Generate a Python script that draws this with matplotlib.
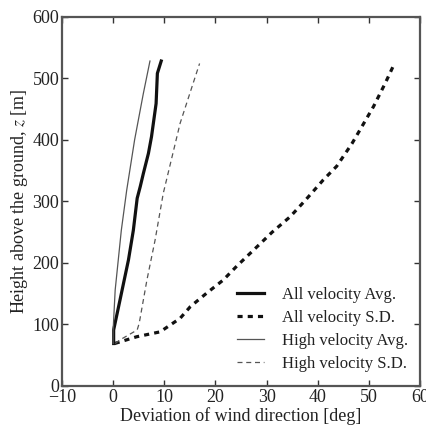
import matplotlib
matplotlib.use("Agg")
import matplotlib.pyplot as plt

plt.rcParams["font.family"] = ["Liberation Serif", "DejaVu Serif"]
plt.rcParams["mathtext.fontset"] = "stix"

# Wind direction deviation profiles (deg) against height above ground (m)
all_avg_z = [69, 91, 140, 205, 253, 305, 324, 345, 378, 405, 459, 508, 528]
all_avg_x = [0.1, 0.1, 1.35, 3.0, 3.95, 4.7, 5.3, 5.9, 6.9, 7.5, 8.4, 8.65, 9.4]

all_sd_z = [69, 80, 88, 110, 129, 151, 172, 195, 226, 250, 275, 302, 335,
            357, 394, 421, 454, 492, 524]
all_sd_x = [0.3, 4.6, 9.2, 13.1, 15.1, 18.3, 21.5, 24.2, 28.1, 31.1, 34.6,
            37.6, 41.1, 43.7, 46.7, 48.6, 50.9, 53.2, 55.0]

high_avg_z = [69, 91, 156, 253, 318, 400, 475, 528]
high_avg_x = [0.0, 0.0, 0.4, 1.6, 2.65, 4.2, 5.9, 7.2]

high_sd_z = [69, 75, 91, 102, 172, 237, 313, 427, 524]
high_sd_x = [0.4, 1.35, 4.7, 5.1, 6.6, 8.2, 9.8, 13.1, 16.9]

x_ticks = [-10, 0, 10, 20, 30, 40, 50, 60]
y_ticks = [0, 100, 200, 300, 400, 500, 600]

fig = plt.figure(figsize=(4.26, 4.32), dpi=100)
ax = fig.add_axes([0.1455, 0.1065, 0.8405, 0.8548])

ax.plot(all_avg_x, all_avg_z, color="#111111", lw=2.3, ls="-",
        label="All velocity Avg.")
ax.plot(all_sd_x, all_sd_z, color="#111111", lw=2.3, ls=(0, (1.6, 1.6)),
        label="All velocity S.D.")
ax.plot(high_avg_x, high_avg_z, color="#555555", lw=0.9, ls="-",
        label="High velocity Avg.")
ax.plot(high_sd_x, high_sd_z, color="#555555", lw=0.9, ls=(0, (4, 3)),
        label="High velocity S.D.")

ax.set_xlim(-10, 60)
ax.set_ylim(0, 600)
ax.set_xticks(x_ticks)
ax.set_yticks(y_ticks)
ax.set_xticklabels(["\u221210"] + [str(t) for t in x_ticks[1:]])
ax.tick_params(direction="in", top=True, right=True, length=4,
               width=1.0, labelsize=13, pad=2, colors="#333333",
               labelcolor="#222222")
for s in ax.spines.values():
    s.set_linewidth(1.6)
    s.set_color("#555555")

ax.set_xlabel("Deviation of wind direction [deg]", fontsize=13,
              color="#222222", labelpad=1)
ax.set_ylabel("Height above the ground, $z$ [m]", fontsize=13,
              color="#222222", labelpad=2)

leg = ax.legend(loc="lower right", frameon=False, fontsize=12,
                handlelength=1.6, handletextpad=1.1, labelspacing=0.42,
                borderaxespad=0.0, bbox_to_anchor=(0.985, 0.02))
for t in leg.get_texts():
    t.set_color("#222222")

fig.savefig("out.png", dpi=100)
